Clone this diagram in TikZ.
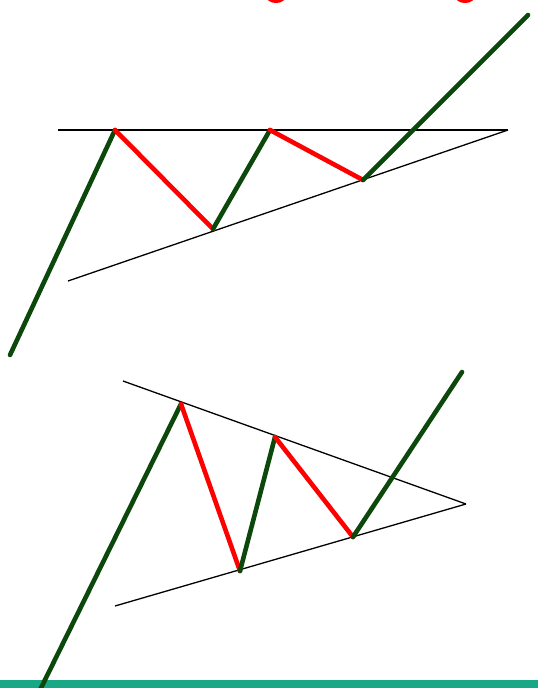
\documentclass[tikz,border=0pt]{standalone}
\begin{document}
\begin{tikzpicture}[x=1pt,y=-1pt,
  up/.style={draw=upgreen,line width=4.6pt,line cap=round},
  down/.style={draw=red,line width=4.6pt,line cap=round},
  trend/.style={draw=black,line width=1.3pt}]
\definecolor{upgreen}{RGB}{12,72,12}
\definecolor{barteal}{RGB}{24,168,134}
\useasboundingbox (0,0) rectangle (538,688);
\fill[white] (0,0) rectangle (538,688);
% cropped red blobs at the top edge
\begin{scope}
\clip (0,0) rectangle (538,688);
\fill[red] (276,-4) ellipse (10 and 7);
\fill[red] (465,-4) ellipse (10 and 7);
\end{scope}
% bottom bar
\fill[barteal] (0,680) rectangle (538,688);
% ---- top pattern
\coordinate (t1) at (58,130);
\coordinate (t2) at (508,130);
\coordinate (l1) at (68,281);
\coordinate (a0) at (10,355);
\coordinate (a1) at (115,130);
\coordinate (a2) at (213,229);
\coordinate (a3) at (270,130);
\coordinate (a4) at (363,180);
\coordinate (a5) at (528,15);
\draw[trend] (t1) -- (t2);
\draw[trend] (l1) -- (t2);
\draw[up] (a0) -- (a1);
\draw[down] (a1) -- (a2);
\draw[up] (a2) -- (a3);
\draw[down] (a3) -- (a4);
\draw[up] (a4) -- (a5);
% ---- bottom pattern
\coordinate (u1) at (123,381);
\coordinate (apex) at (466,504);
\coordinate (d1) at (115,606);
\coordinate (b0) at (40,690);
\coordinate (b1) at (181,404);
\coordinate (b2) at (240,571);
\coordinate (b3) at (275,437);
\coordinate (b4) at (353,537);
\coordinate (b5) at (462,372);
\draw[trend] (u1) -- (apex);
\draw[trend] (d1) -- (apex);
\draw[up] (b0) -- (b1);
\draw[down] (b1) -- (b2);
\draw[up] (b2) -- (b3);
\draw[down] (b3) -- (b4);
\draw[up] (b4) -- (b5);
\end{tikzpicture}
\end{document}
